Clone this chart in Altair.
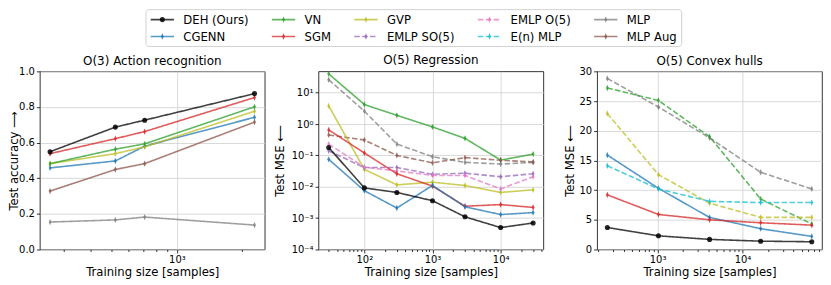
import json
import math
import altair as alt
import pandas as pd

# ---------------- data ----------------
MODELS = ["DEH (Ours)", "CGENN", "VN", "SGM", "GVP", "EMLP SO(5)",
          "EMLP O(5)", "E(n) MLP", "MLP", "MLP Aug"]
COLORS = ["#000000", "#1f77b4", "#2ca02c", "#d62728", "#bcbd22", "#9467bd",
          "#e377c2", "#17becf", "#7f7f7f", "#8c564b"]

# O(3) Action recognition (test accuracy)
act_sizes = [260, 520, 710, 2280]
act_mlp = [0.154, 0.166, 0.182, 0.137]
act_mlp_aug = [0.328, 0.449, 0.482, 0.715]
act_cgenn = [0.458, 0.497, 0.580, 0.742]
act_gvp = [0.482, 0.538, 0.576, 0.776]
act_vn = [0.482, 0.563, 0.593, 0.801]
act_sgm = [0.538, 0.622, 0.662, 0.853]
act_deh = [0.549, 0.687, 0.726, 0.875]

# O(5) Regression (test MSE)
reg_sizes = [30, 100, 300, 1000, 3000, 10000, 30000]
reg_vn = [40, 4.2, 1.9, 0.81, 0.35, 0.071, 0.11]
reg_mlp = [26, 2.6, 0.23, 0.091, 0.06, 0.053, 0.06]
reg_mlp_aug = [0.45, 0.31, 0.10, 0.058, 0.085, 0.07, 0.062]
reg_gvp = [3.8, 0.036, 0.0115, 0.014, 0.011, 0.0066, 0.008]
reg_emlp_so5 = [0.14, 0.041, 0.041, 0.025, 0.027, 0.021, 0.026]
reg_emlp_o5 = [0.23, 0.042, 0.032, 0.023, 0.023, 0.0085, 0.021]
reg_sgm = [0.65, 0.12, 0.026, 0.0105, 0.0024, 0.0027, 0.0022]
reg_cgenn = [0.075, 0.0075, 0.0021, 0.011, 0.0023, 0.0013, 0.0015]
reg_deh = [0.18, 0.0092, 0.0066, 0.0036, 0.0011, 0.0005, 0.0007]

# O(5) Convex hulls (test MSE)
hull_sizes = [256, 1024, 4096, 16384, 65536]
hull_mlp = [28.8, 24.0, 18.8, 13.0, 10.2]
hull_vn = [27.2, 25.1, 19.0, 8.5, 4.3]
hull_gvp = [22.9, 12.6, 7.8, 5.4, 5.4]
hull_cgenn = [15.9, 10.3, 5.4, 3.5, 2.2]
hull_enmlp = [14.1, 10.2, 8.1, 7.9, 7.9]
hull_sgm = [9.2, 5.9, 5.0, 4.5, 4.1]
hull_deh = [3.7, 2.3, 1.7, 1.4, 1.3]

LEGEND_DASHED = ["EMLP SO(5)", "EMLP O(5)", "E(n) MLP"]

# ---------------- styling helpers ----------------
FONT = "DejaVu Sans"
PW, PH = 226, 179
THIN_DIAMOND = "M0,-1.25L0.55,0L0,1.25L-0.55,0Z"
SHAPES = ["circle"] + [THIN_DIAMOND] * (len(MODELS) - 1)
DASH_DOMAIN = ["solid", "dashed"]
DASH_RANGE = [[1, 0], [5.5, 2.4]]
SUP = {"0": "⁰", "1": "¹", "2": "²", "3": "³", "4": "⁴", "5": "⁵", "-": "⁻"}


def sup_label(v):
    e = int(round(math.log10(v)))
    return "10" + "".join(SUP[c] for c in str(e))


def num(v):
    return json.dumps(v)


def log_axis(majors, minors, **kw):
    test = "indexof(%s, datum.value) >= 0" % json.dumps(majors)
    expr = "''"
    for m in reversed(majors):
        expr = "datum.value === %s ? '%s' : (%s)" % (num(m), sup_label(m), expr)
    return alt.Axis(
        values=sorted(majors + minors), labelExpr=expr,
        tickSize={"condition": {"test": test, "value": 3.5}, "value": 2},
        gridOpacity={"condition": {"test": test, "value": 1}, "value": 0},
        labelOverlap=False, labelFlush=False, labelPadding=2, **kw)


def log_domain(sizes):
    a, b = math.log10(min(sizes)), math.log10(max(sizes))
    m = 0.05 * (b - a)
    return [10 ** (a - m), 10 ** (b + m)]


def minors_in(dom):
    out = []
    for e in range(-5, 6):
        for k in range(2, 10):
            v = k * 10 ** e
            if dom[0] <= v <= dom[1]:
                out.append(v if e >= 0 else round(v, 8))
    return out


def panel(title, sizes, series, dashed, xmajors, ytitle, yscale, yaxis, title_dy):
    rows = []
    for m, vals in series:
        for s, v in zip(sizes, vals):
            rows.append({"size": s, "value": v, "model": m,
                         "dash": "dashed" if m in dashed else "solid"})
    df = pd.DataFrame(rows)
    xdom = log_domain(sizes)
    x = alt.X("size:Q", title="Training size [samples]",
              scale=alt.Scale(type="log", domain=xdom, nice=False),
              axis=log_axis(xmajors, minors_in(xdom), titlePadding=2))
    y = alt.Y("value:Q", title=ytitle, scale=yscale, axis=yaxis)
    color = alt.Color("model:N", scale=alt.Scale(domain=MODELS, range=COLORS), legend=None)
    base = alt.Chart(df).encode(x=x, y=y, color=color)
    lines = base.mark_line(strokeWidth=1.6, opacity=0.75, clip=True).encode(
        strokeDash=alt.StrokeDash("dash:N", scale=alt.Scale(domain=DASH_DOMAIN, range=DASH_RANGE), legend=None),
        detail="model:N")
    pts = base.mark_point(filled=True, opacity=0.85, size=26, strokeWidth=0).encode(
        shape=alt.Shape("model:N", scale=alt.Scale(domain=MODELS, range=SHAPES), legend=None))
    return alt.layer(lines, pts).properties(
        width=PW, height=PH,
        title=alt.TitleParams(title, fontSize=12, fontWeight="normal", offset=3.5, dy=title_dy,
                              font=FONT, color="black"))


p1 = panel(
    "O(3) Action recognition", act_sizes,
    [("MLP", act_mlp), ("MLP Aug", act_mlp_aug), ("CGENN", act_cgenn), ("GVP", act_gvp),
     ("VN", act_vn), ("SGM", act_sgm), ("DEH (Ours)", act_deh)],
    [], [1000], "Test accuracy ⟶",
    alt.Scale(domain=[0, 1], nice=False, zero=False),
    alt.Axis(values=[0, 0.2, 0.4, 0.6, 0.8, 1.0], format=".1f", tickSize=3.5, labelPadding=2,
             minExtent=18, maxExtent=18, titlePadding=2), 5)

reg_majors = [0.0001, 0.001, 0.01, 0.1, 1, 10]
p2 = panel(
    "O(5) Regression", reg_sizes,
    [("VN", reg_vn), ("MLP", reg_mlp), ("MLP Aug", reg_mlp_aug), ("GVP", reg_gvp),
     ("EMLP SO(5)", reg_emlp_so5), ("EMLP O(5)", reg_emlp_o5), ("SGM", reg_sgm),
     ("CGENN", reg_cgenn), ("DEH (Ours)", reg_deh)],
    ["MLP", "MLP Aug", "EMLP SO(5)", "EMLP O(5)"], [100, 1000, 10000], "Test MSE ⟵",
    alt.Scale(type="log", domain=[1e-4, 48], nice=False),
    alt.Axis(values=reg_majors, tickSize=3.5, labelPadding=2,
             labelExpr=" : ".join("datum.value === %s ? '%s'" % (num(v), sup_label(v)) for v in reg_majors) + " : ''",
             minExtent=26, maxExtent=26, titlePadding=7), 0)

p3 = panel(
    "O(5) Convex hulls", hull_sizes,
    [("MLP", hull_mlp), ("VN", hull_vn), ("GVP", hull_gvp), ("CGENN", hull_cgenn),
     ("E(n) MLP", hull_enmlp), ("SGM", hull_sgm), ("DEH (Ours)", hull_deh)],
    ["MLP", "VN", "GVP", "E(n) MLP"], [1000, 10000], "Test MSE ⟵",
    alt.Scale(domain=[0, 30], nice=False, zero=False),
    alt.Axis(values=[0, 5, 10, 15, 20, 25, 30], tickSize=3.5, labelPadding=2,
             minExtent=18, maxExtent=18, titlePadding=4), 5)

# ---------------- legend (matplotlib-style, 5 columns x 2 rows) ----------------
ORIGIN = 40                      # page x of the first plot's left edge
LEG_COL_X = [151.4, 273.2, 356.0, 480.2, 597.0]   # handle starts (page px)
LEG_ROW_Y = [10, 27]
HANDLE = 23.4
TEXT_GAP = 9.4
leg_rows = []
for i, m in enumerate(MODELS):
    hx = LEG_COL_X[i // 2] - ORIGIN
    leg_rows.append({"model": m, "hx": hx, "hx2": hx + HANDLE, "mx": hx + HANDLE / 2,
                     "tx": hx + HANDLE + TEXT_GAP, "hy": LEG_ROW_Y[i % 2],
                     "dash": "dashed" if m in LEGEND_DASHED else "solid"})
ldf = pd.DataFrame(leg_rows)
lcolor = alt.Color("model:N", scale=alt.Scale(domain=MODELS, range=COLORS), legend=None)
box = alt.Chart(pd.DataFrame({"a": [0]})).mark_rect(
    fill="white", stroke="#cccccc", strokeWidth=0.9, cornerRadius=3).encode(
    x=alt.value(LEG_COL_X[0] - 4.7 - ORIGIN), x2=alt.value(685 - ORIGIN),
    y=alt.value(0), y2=alt.value(37))
lbase = alt.Chart(ldf).encode(y=alt.Y("hy:Q", scale=None, axis=None))
handles = lbase.mark_rule(strokeWidth=1.6, opacity=0.75).encode(
    x=alt.X("hx:Q", scale=None, axis=None), x2="hx2:Q", color=lcolor,
    strokeDash=alt.StrokeDash("dash:N", scale=alt.Scale(domain=DASH_DOMAIN, range=DASH_RANGE), legend=None))
lmarks = lbase.mark_point(filled=True, opacity=0.85, size=26, strokeWidth=0).encode(
    x=alt.X("mx:Q", scale=None, axis=None), color=lcolor,
    shape=alt.Shape("model:N", scale=alt.Scale(domain=MODELS, range=SHAPES), legend=None))
ltext = lbase.mark_text(align="left", baseline="middle", fontSize=11.7, font=FONT, color="black").encode(
    x=alt.X("tx:Q", scale=None, axis=None), text="model:N")
legend = alt.layer(box, handles, lmarks, ltext).properties(
    width=3 * PW + 2 * 54, height=40, view=alt.ViewBackground(strokeOpacity=0))

row = alt.hconcat(p1, p2, p3, spacing=54, bounds="flush").resolve_scale(
    x="independent", y="independent")

chart = alt.vconcat(legend, row, spacing=22, bounds="flush", padding=0).configure(
    font=FONT).configure_view(stroke="black", strokeWidth=0.8).configure_axis(
    labelFont=FONT, titleFont=FONT, labelFontSize=10, titleFontSize=11.7,
    titleFontWeight="normal", labelColor="black", titleColor="black",
    tickColor="black", tickWidth=0.8, domain=False, grid=True,
    gridColor="#cfcfcf", gridWidth=0.8)

chart.save("out.html", embed_options={"renderer": "svg", "actions": False})
